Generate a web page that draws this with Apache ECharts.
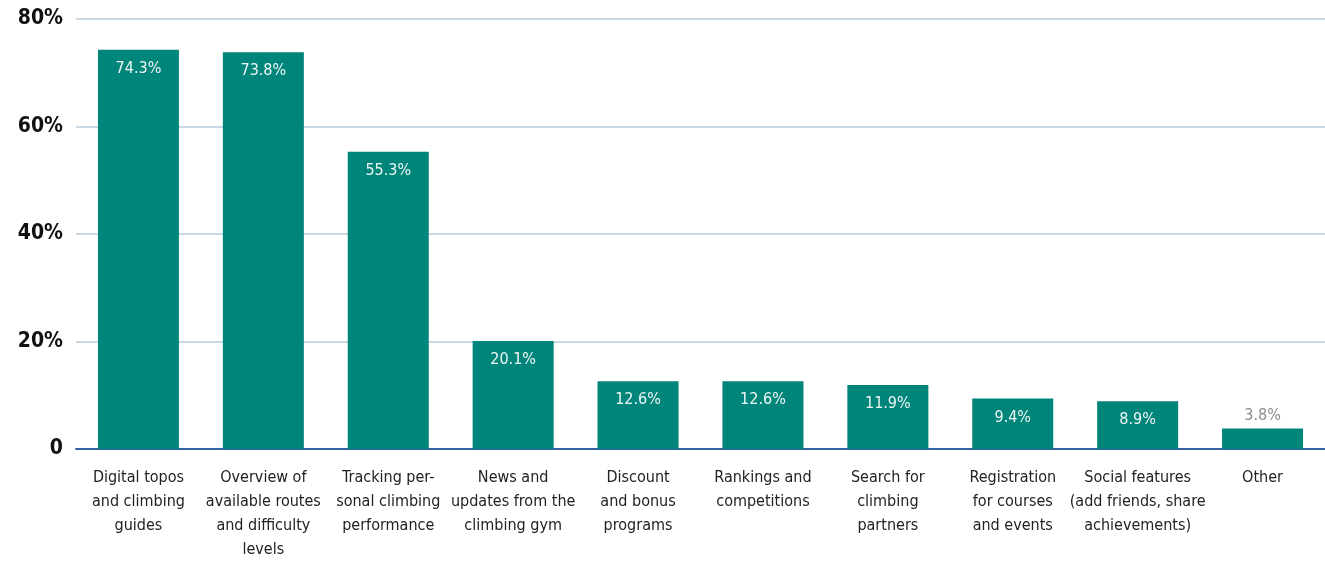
<!DOCTYPE html>
<html><head><meta charset="utf-8">
<script src="https://cdn.jsdelivr.net/npm/echarts@6/dist/echarts.min.js"></script>
<style>html,body{margin:0;padding:0;background:#fff}#c{width:1325px;height:562px}</style>
</head><body><div id="c"></div>
<script>
const categories = [
  "Digital topos\nand climbing\nguides",
  "Overview of\navailable routes\nand difficulty\nlevels",
  "Tracking per-\nsonal climbing\nperformance",
  "News and\nupdates from the\nclimbing gym",
  "Discount\nand bonus\nprograms",
  "Rankings and\ncompetitions",
  "Search for\nclimbing\npartners",
  "Registration\nfor courses\nand events",
  "Social features\n(add friends, share\nachievements)",
  "Other"
];
const values = [74.3, 73.8, 55.3, 20.1, 12.6, 12.6, 11.9, 9.4, 8.9, 3.8];
const yTicks = [0, 20, 40, 60, 80];
const outsideLabelIndex = [9];

const FONT = "'DejaVu Sans Condensed','Liberation Sans Narrow','Noto Sans',sans-serif";
const chart = echarts.init(document.getElementById('c'));
chart.setOption({
  animation: false,
  grid: {left: 76, right: -7, top: 19, bottom: 110},
  xAxis: {
    type: 'category', data: categories,
    axisLine: {lineStyle: {color: '#3563a3', width: 2}},
    axisTick: {show: false},
    axisLabel: {interval: 0, margin: 17, fontFamily: FONT, fontSize: 16, lineHeight: 24, color: '#222'}
  },
  yAxis: {
    type: 'value', min: 0, max: 80, interval: 20,
    axisLine: {show: false}, axisTick: {show: false},
    splitLine: {lineStyle: {color: '#b9cadb', width: 1.5}},
    axisLabel: {margin: 13, padding: [0, 0, 5, 0], fontFamily: FONT, fontSize: 21, fontWeight: 'bold', color: '#111',
      formatter: v => yTicks.includes(v) ? (v === 0 ? '0' : v + '%') : ''}
  },
  series: [{
    type: 'bar', barWidth: 81,
    data: values.map((v, i) => outsideLabelIndex.includes(i) ? {
      value: v,
      label: {position: 'top', color: '#8c8c8c', distance: 5}
    } : v),
    itemStyle: {color: '#00857a'},
    label: {show: true, position: 'insideTop', distance: 11, color: '#eef7f5',
      fontFamily: FONT, fontSize: 16, formatter: p => p.value.toFixed(1) + '%'}
  }]
});
</script></body></html>
